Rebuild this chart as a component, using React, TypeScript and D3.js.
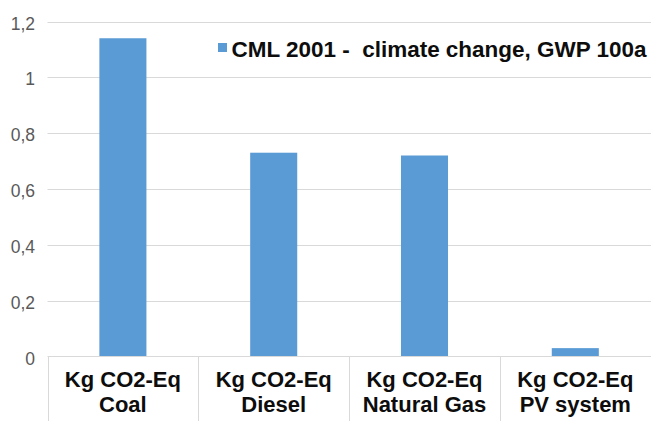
import React from "react";
import * as d3 from "d3";

const categories = ["Coal", "Diesel", "Natural Gas", "PV system"];
const values = [1.14, 0.73, 0.72, 0.03];
const yTicks = [0, 0.2, 0.4, 0.6, 0.8, 1, 1.2];
const labelPrefix = "Kg CO2-Eq";
const seriesName = "CML 2001 -  climate change, GWP 100a";

const W = 651;
const H = 421;

export default function App() {
  const x = d3
    .scaleBand<string>()
    .domain(categories)
    .range([47.5, 650.7])
    .paddingInner(0.688)
    .paddingOuter(0.344);
  const y = d3.scaleLinear().domain([0, 1.2]).range([356.5, 21.5]);
  const step = x.step();
  const start = 47.5;
  const fmt = (v: number) => String(+v.toFixed(1)).replace(".", ",");
  const color = "#5b9bd5";

  return (
    <svg
      width={W}
      height={H}
      style={{ position: "absolute", left: 0, top: 0, background: "#fff" }}
      fontFamily="'Liberation Sans', Arial, sans-serif"
    >
      <rect x={0} y={0} width={W} height={H} fill="#fff" />
      {yTicks.map((t) => (
        <g key={t}>
          {t !== 0 && (
            <line x1={47.5} x2={W} y1={Math.round(y(t)) + 0.5} y2={Math.round(y(t)) + 0.5} stroke="#d9d9d9" strokeWidth={1} />
          )}
          <text x={35} y={y(t) + 8} textAnchor="end" fontSize={17.5} fill="#595959">
            {fmt(t)}
          </text>
        </g>
      ))}
      {categories.map((c, i) => (
        <rect key={c} x={x(c)} y={y(values[i])} width={x.bandwidth()} height={y(0) - y(values[i])} fill={color} />
      ))}
      <line x1={47.5} x2={W} y1={356.5} y2={356.5} stroke="#d9d9d9" strokeWidth={1} />
      {d3.range(categories.length + 1).map((i) => (
        <line
          key={i}
          x1={Math.round(start + i * step) + 0.5}
          x2={Math.round(start + i * step) + 0.5}
          y1={356.5}
          y2={H}
          stroke="#d9d9d9"
          strokeWidth={1}
        />
      ))}
      {categories.map((c) => {
        const cx = (x(c) as number) + x.bandwidth() / 2;
        return (
          <text key={c} x={cx} textAnchor="middle" fontSize={22} fontWeight="bold" fill="#0d0d0d">
            <tspan x={cx} y={386.5}>{labelPrefix}</tspan>
            <tspan x={cx} y={411.5}>{c}</tspan>
          </text>
        );
      })}
      <rect x={218} y={43} width={9} height={9} fill={color} />
      <text
        x={231.5}
        y={57}
        fontSize={22}
        fontWeight="bold"
        fill="#0d0d0d"
        style={{ whiteSpace: "pre" }}
        textLength={415}
        lengthAdjust="spacingAndGlyphs"
      >
        {seriesName}
      </text>
    </svg>
  );
}
